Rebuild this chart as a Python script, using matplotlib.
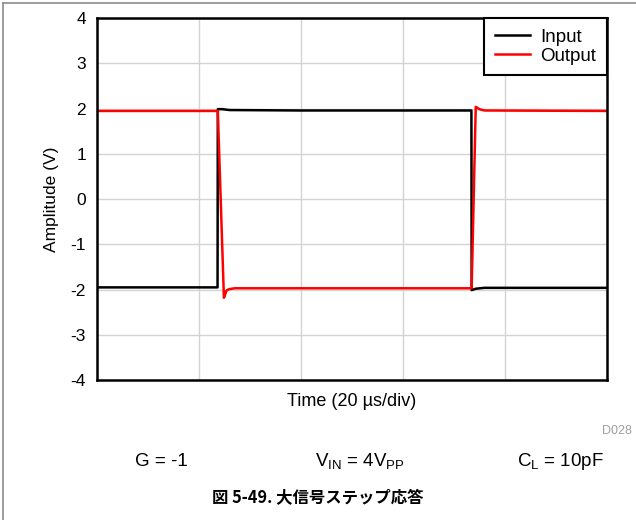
import matplotlib
matplotlib.use("Agg")
import matplotlib.pyplot as plt
from matplotlib.lines import Line2D

plt.rcParams['font.family'] = ['Liberation Sans', 'DejaVu Sans']

# time axis in microseconds (20 us/div, 5 divisions)
t_input = [0, 23.65, 23.7, 24.5, 26.0, 40.0, 73.45, 73.5, 74.3, 76.0, 100]
v_input = [-1.95, -1.95, 1.99, 1.99, 1.97, 1.96, 1.96, -2.01, -1.98, -1.96, -1.96]

t_output = [0, 23.7, 24.9, 25.1, 25.4, 25.9, 27.0, 73.5, 74.3, 74.6, 75.0, 76.0, 100]
v_output = [1.95, 1.95, -2.18, -2.12, -2.02, -1.99, -1.97, -1.97, 2.04, 2.02, 1.99, 1.96, 1.95]

y_ticks = [-4, -3, -2, -1, 0, 1, 2, 3, 4]
x_grid = [0, 20, 40, 60, 80, 100]

fig = plt.figure(figsize=(6.36, 5.2), dpi=100)

# grey frame: only the left and top edges show in the original
fig.add_artist(Line2D([0.005, 0.005], [0, 0.994], transform=fig.transFigure,
                      color="#8c8c8c", lw=1.2))
fig.add_artist(Line2D([0.005, 1], [0.994, 0.994], transform=fig.transFigure,
                      color="#8c8c8c", lw=1.2))

ax = fig.add_axes([0.1525, 0.269, 0.8015, 0.696])
ax.plot(t_input, v_input, color="black", lw=1.8, label="Input")
ax.plot(t_output, v_output, color="#ff0000", lw=1.8, label="Output")

ax.set_xlim(0, 100)
ax.set_ylim(-4, 4)
ax.set_xticks(x_grid)
ax.set_xticklabels([])
ax.set_yticks(y_ticks)
ax.set_yticklabels([str(v) for v in y_ticks], fontsize=12.5)
ax.tick_params(length=0, pad=8)
ax.grid(True, color="#d3d3d3", lw=1)
ax.set_axisbelow(True)
for s in ax.spines.values():
    s.set_linewidth(1.8)

ax.set_xlabel("Time (20 µs/div)", fontsize=13, labelpad=1)
ax.set_ylabel("Amplitude (V)", fontsize=12.5, labelpad=8)

leg = ax.legend(loc="upper right", fontsize=13.5, fancybox=False, framealpha=1,
                edgecolor="black", borderaxespad=0, handlelength=1.9,
                handletextpad=0.55, labelspacing=0.1, borderpad=0.55)
leg.get_frame().set_linewidth(1.5)

fig.text(0.994, 0.171, "D028", fontsize=9, color="#a0a0a0", ha="right", va="center")
fig.text(0.253, 0.112, "G = -1", fontsize=13.5, ha="center", va="center")
fig.text(0.566, 0.112, r"V$_{\mathregular{IN}}$ = 4V$_{\mathregular{PP}}$", fontsize=13.5,
         ha="center", va="center")
fig.text(0.881, 0.112, r"C$_{\mathregular{L}}$ = 10pF", fontsize=13.5, ha="center", va="center")
fig.text(0.5, 0.042, "図 5-49. 大信号ステップ応答", fontsize=11.8, fontweight="bold",
         ha="center", va="center", family=["Noto Sans CJK JP", "DejaVu Sans"])

fig.savefig("out.png", dpi=100)
